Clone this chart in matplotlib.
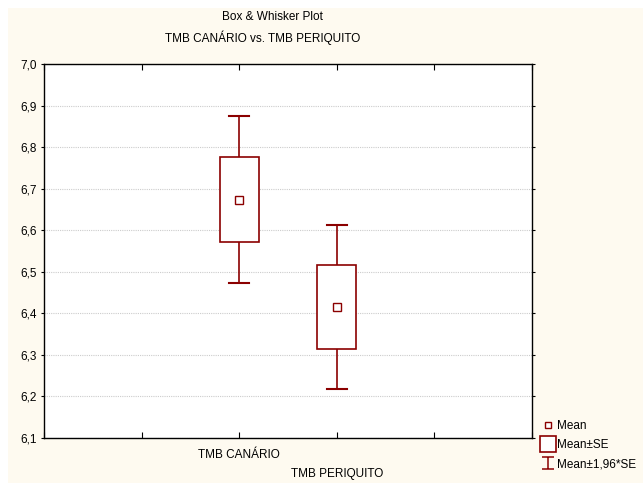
import numpy as np
import matplotlib.pyplot as plt
from matplotlib.patches import Rectangle
from matplotlib.lines import Line2D
from matplotlib.path import Path

plt.rcParams['font.family'] = ['Liberation Sans', 'DejaVu Sans']

categories = ["TMB CANÁRIO", "TMB PERIQUITO"]
means = [6.673, 6.415]
se = [0.1025, 0.101]
yticks = [6.1, 6.2, 6.3, 6.4, 6.5, 6.6, 6.7, 6.8, 6.9, 7.0]

red = '#8b0000'
cream = '#fefaf0'
fs = 8.5

fig = plt.figure(figsize=(6.43, 4.83), dpi=100, facecolor='white')
fig.patches.append(Rectangle((8/643, 0), 1, 1 - 8/483, transform=fig.transFigure,
                             facecolor=cream, edgecolor='none', zorder=-10))
ax = fig.add_axes([44/643, 1 - 438/483, (532-44)/643, (438-64)/483])
ax.set_facecolor('white')

pos = np.arange(1, len(categories) + 1)
for p, m, s in zip(pos, means, se):
    lo, hi = m - 1.96*s, m + 1.96*s
    ax.plot([p, p], [lo, m - s], color=red, lw=1.2, zorder=3)
    ax.plot([p, p], [m + s, hi], color=red, lw=1.2, zorder=3)
    ax.plot([p - 0.1, p + 0.1], [lo, lo], color=red, lw=1.5, zorder=3)
    ax.plot([p - 0.1, p + 0.1], [hi, hi], color=red, lw=1.5, zorder=3)
    ax.add_patch(Rectangle((p - 0.2, m - s), 0.4, 2*s, facecolor='white',
                           edgecolor=red, lw=1.2, zorder=3))
    ax.plot(p, m, marker='s', ms=5.5, mfc='white', mec=red, mew=1, zorder=4)

ax.set_xlim(-1, 4)
ax.set_ylim(6.1, 7.0)
ax.set_yticks(yticks)
ax.set_yticklabels([f"{v:.1f}".replace('.', ',') for v in yticks], fontsize=fs)
ax.set_xticks(np.arange(-1, 5))
ax.set_xticklabels([])
for p, c, dy in zip(pos, categories, [-0.042, -0.086]):
    ax.text(p, 6.1 + dy, c, ha='center', va='center', fontsize=fs)
ax.yaxis.grid(True, color='#cccccc', ls=(0, (1, 1)), lw=0.8)
ax.tick_params(axis='x', direction='in', length=4, top=True, width=0.8)
ax.tick_params(axis='y', direction='out', length=2, right=True, width=0.8, pad=3)
for sp in ax.spines.values():
    sp.set_linewidth(1)

fig.text(272/643, 1 - 17/483, "Box & Whisker Plot", ha='center', va='center', fontsize=fs)
fig.text(263/643, 1 - 38/483, "TMB CANÁRIO vs. TMB PERIQUITO", ha='center', va='center', fontsize=fs)

whisk = Path([(-1, 1), (1, 1), (0, 1), (0, -1), (-1, -1), (1, -1)],
             [Path.MOVETO, Path.LINETO, Path.MOVETO, Path.LINETO, Path.MOVETO, Path.LINETO])
handles = [
    Line2D([], [], ls='none', marker='s', ms=4.5, mfc='white', mec=red, mew=1),
    Line2D([], [], ls='none', marker='s', ms=11, mfc='white', mec=red, mew=1.2),
    Line2D([], [], ls='none', marker=whisk, ms=9, color=red, fillstyle='none', mew=1.1),
]
fig.legend(handles, ["Mean", "Mean±SE", "Mean±1,96*SE"], loc='upper left',
           bbox_to_anchor=(537/643, 1 - 414/483), frameon=False, fontsize=fs,
           handlelength=0.9, handletextpad=0.3, labelspacing=0.6, borderpad=0)

fig.savefig('out.png', dpi=100, facecolor=fig.get_facecolor())
